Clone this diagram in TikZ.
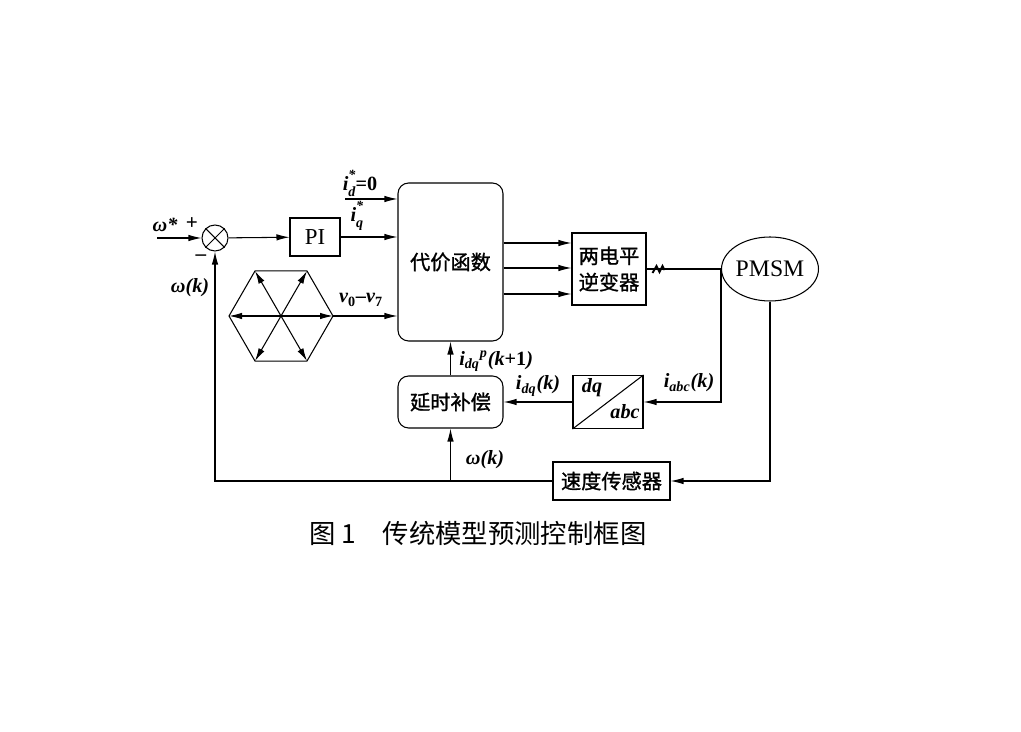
\documentclass[tikz,border=0pt]{standalone}
\usepackage{fontspec}
\setmainfont{Liberation Serif}
\newfontfamily\cjk{Noto Sans CJK SC}
\newfontfamily\cjkm[FakeBold=1.2]{Noto Sans CJK SC}
\usetikzlibrary{positioning,arrows.meta,shapes.geometric}

\begin{document}
\begin{tikzpicture}[x=0.02cm, y=-0.02cm, line width=0.6pt,
		>={Latex[length=2.6mm,width=1.3mm]},
		box/.style={draw, inner sep=0pt, align=center, font=\cjkm\fontsize{11.5}{15}\selectfont},
		rbox/.style={box, rounded corners=6pt},
		lab/.style={inner sep=1pt, font=\bfseries\itshape\fontsize{11.5}{13}\selectfont}]
		\useasboundingbox (0,0) rectangle (1021,732);
		\node[draw, circle, minimum size=0.52cm, inner sep=0pt] (sum) at (215,238) {};
		\draw (sum.north west) -- (sum.south east) (sum.north east) -- (sum.south west);
		\node[box, minimum width=1cm, minimum height=0.76cm, font=\fontsize{13}{14}\selectfont] (pi) at (315,237) {PI};
		\node[rbox, minimum width=2.1cm, minimum height=3.16cm] (cost) at (450.5,262) {代价函数};
		\node[box, minimum width=1.48cm, minimum height=1.44cm] (inv) at (609,269) {两电平\\逆变器};
		\node[draw, ellipse, minimum width=1.68cm, minimum height=1.28cm, inner sep=0pt, font=\fontsize{13.5}{14}\selectfont] (pmsm) at (770,269) {PMSM};
		\node[box, minimum width=1.4cm, minimum height=1.06cm] (trans) at (608,402) {};
		\draw (trans.south west) -- (trans.north east);
		\node[lab] (dq) at (592,388) {dq};
		\node[lab] (abc) at (625,412) {abc};
		\node[rbox, minimum width=2.1cm, minimum height=1.04cm] (comp) at (450.5,402) {延时补偿};
		\node[box, minimum width=2.34cm, minimum height=0.76cm] (sens) at (611.5,481) {速度传感器};
		\coordinate (hc) at (281,316);
		\foreach \a [count=\i] in {0,60,...,300}
			\path (hc) ++(\a:52) coordinate (h\i);
		\draw (h1) -- (h2) -- (h3) -- (h4) -- (h5) -- (h6) -- cycle;
		\foreach \i in {1,...,6}
			\draw[->] (hc) -- (h\i);
		\coordinate (win) at (157,238);
		\coordinate (idin) at (345,199);
		\coordinate (tap) at (721,269);
		\draw[->] (win) -- (sum);
		\draw[->] (sum) -- (pi);
		\draw[->] (pi) -- (pi -| cost.west);
		\draw[->] (idin) -- (idin -| cost.west);
		\draw[->] (h1) -- (h1 -| cost.west);
		\foreach \yy in {243,268,294}
			\draw[->] (cost.east |- 0,\yy) -- (inv.west |- 0,\yy);
		\draw (inv.east) -- (pmsm.west);
		\draw[line width=1.1pt] ([shift={(6,4)}]inv.east) -- ++(4,-7) -- ++(3,6) -- ++(3,-6) -- ++(2,4);
		\draw[->] (tap) |- (trans.east);
		\draw[->] (trans) -- (comp);
		\draw[->] (comp) -- (cost);
		\draw[->] (pmsm.south) |- (sens.east);
		\draw[->] (sens.west) -| (sum.south);
		\draw[->] (comp |- sens) -- (comp.south);
		\node[lab] (wref) at (165,225) {ω*};
		\node[font=\bfseries\fontsize{12}{13}\selectfont] (plus) at (192,224) {+};
		\node[font=\bfseries\fontsize{12}{13}\selectfont] (minus) at (201,258) {–};
		\node[lab] (wk1) at (190,288) {ω(k)};
		\node[lab] (idref) at (360,183) {i\rlap{\raisebox{0.55em}{\fontsize{8}{8}\selectfont *}}\raisebox{-0.3em}{\fontsize{8}{8}\selectfont d}\upshape =0};
		\node[lab] (iqref) at (362,216) {i\rlap{\raisebox{0.55em}{\fontsize{8}{8}\selectfont *}}\raisebox{-0.3em}{\fontsize{8}{8}\selectfont q}\phantom{*}};
		\node[lab] (vv) at (361,300) {v\textsubscript{\upshape 0}\upshape –\itshape v\textsubscript{\upshape 7}};
		\node[lab, anchor=west] (idqp) at (457,361) {i\textsubscript{dq}\textsuperscript{p}(k\upshape +1\itshape )};
		\node[lab] (idqk) at (538,386) {i\textsubscript{dq}(k)};
		\node[lab] (iabck) at (689,383) {i\textsubscript{abc}(k)};
		\node[lab] (wk2) at (485,460) {ω(k)};
		\node[font=\cjk\fontsize{15}{18}\selectfont] (cap) at (478,533) {图 1\quad 传统模型预测控制框图};
	\end{tikzpicture}
\end{document}
